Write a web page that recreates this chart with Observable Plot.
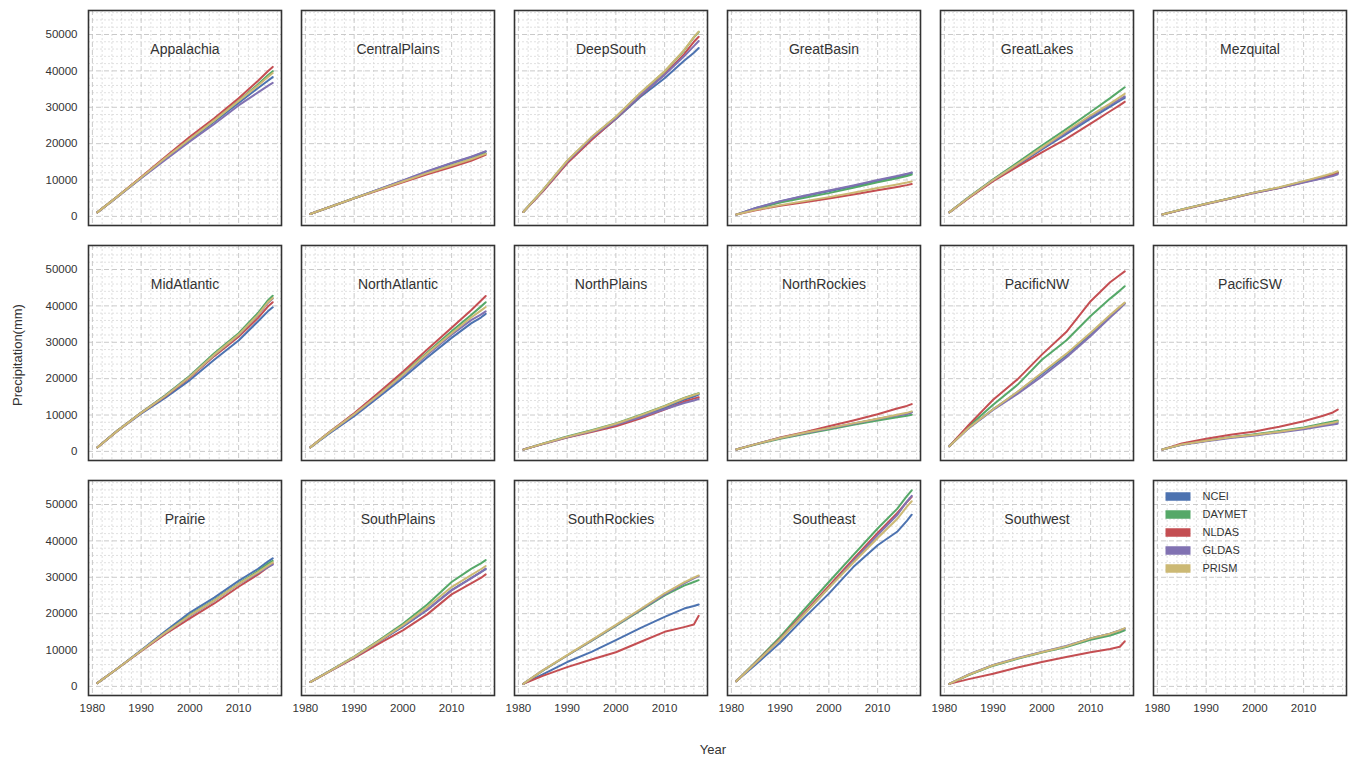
<!DOCTYPE html>
<html>
<head>
<meta charset="utf-8">
<script src="https://cdn.jsdelivr.net/npm/d3@7"></script>
<script src="https://cdn.jsdelivr.net/npm/@observablehq/plot@0.6"></script>
<style>
  html, body { margin: 0; padding: 0; background: #fff; }
  #fig { position: relative; width: 1355px; height: 760px; font-family: "Liberation Sans", Arial, sans-serif; color: #333; }
  .lab { position: absolute; font-size: 13px; color: #333; white-space: nowrap; }
</style>
</head>
<body>
<div id="fig">
  <div id="chart"></div>
  <div class="lab" style="left:713px; top:749px; transform: translate(-50%,-50%);">Year</div>
  <div class="lab" style="left:17px; top:355px; transform: translate(-50%,-50%) rotate(-90deg);">Precipitation(mm)</div>
</div>
<script>
const years = [1981, 1985, 1990, 1995, 2000, 2005, 2010, 2014, 2016, 2017];
const series = ["NCEI", "DAYMET", "NLDAS", "GLDAS", "PRISM"];
const colors = ["#4C72B0", "#55A868", "#C44E52", "#8172B2", "#CCB974"];
const regionNames = ["Appalachia", "CentralPlains", "DeepSouth", "GreatBasin", "GreatLakes", "Mezquital",
  "MidAtlantic", "NorthAtlantic", "NorthPlains", "NorthRockies", "PacificNW", "PacificSW",
  "Prairie", "SouthPlains", "SouthRockies", "Southeast", "Southwest"];
const yTicks = [0, 10000, 20000, 30000, 40000, 50000];
const xTicks = [1980, 1990, 2000, 2010];

// each: [NCEI, DAYMET, NLDAS, GLDAS, PRISM], cumulative mm at the years above
const appalachia = [
  [1100, 5300, 10600, 15900, 21000, 26000, 31200, 35300, 37300, 38300],
  [1100, 5300, 10700, 16100, 21300, 26400, 31800, 36300, 38800, 39900],
  [1100, 5300, 10800, 16400, 21900, 27000, 32500, 37300, 39900, 41100],
  [1100, 5200, 10500, 15600, 20600, 25400, 30500, 34100, 35900, 36700],
  [1100, 5300, 10700, 16100, 21300, 26400, 31700, 36000, 38300, 39400]];
const centralPlains = [
  [650, 2600, 5000, 7400, 9800, 12300, 14600, 16300, 17300, 17800],
  [650, 2600, 5000, 7300, 9600, 11900, 14000, 15700, 16800, 17300],
  [650, 2600, 4950, 7200, 9400, 11600, 13600, 15300, 16400, 16900],
  [650, 2600, 5000, 7400, 9900, 12400, 14700, 16400, 17400, 17900],
  [650, 2600, 5000, 7300, 9600, 11900, 14000, 15700, 16700, 17200]];
const deepSouth = [
  [1200, 7000, 14800, 21200, 26800, 32800, 38000, 42800, 45000, 46300],
  [1200, 7200, 15200, 21700, 27300, 33800, 39800, 45600, 49200, 50700],
  [1200, 6800, 14600, 21000, 26900, 33200, 39000, 44600, 48000, 49400],
  [1200, 7000, 15000, 21500, 27000, 33300, 38900, 44000, 46800, 48200],
  [1200, 7200, 15300, 21800, 27400, 33900, 39900, 45700, 49300, 50800]];
const greatBasin = [
  [500, 2300, 4100, 5600, 6900, 8300, 9800, 10900, 11500, 11900],
  [500, 2100, 3800, 5100, 6400, 7900, 9400, 10500, 11100, 11500],
  [500, 1700, 2900, 3900, 4900, 6000, 7200, 8100, 8600, 8900],
  [500, 2300, 4200, 5700, 7100, 8500, 10000, 11100, 11700, 12100],
  [500, 1800, 3100, 4200, 5300, 6500, 7800, 8800, 9300, 9600]];
const greatLakes = [
  [1100, 5200, 9900, 14100, 18400, 22600, 26900, 30200, 31800, 32600],
  [1100, 5300, 10200, 14800, 19500, 24000, 28700, 32500, 34500, 35500],
  [1100, 5000, 9700, 13700, 17600, 21300, 25500, 28900, 30600, 31500],
  [1100, 5200, 10000, 14300, 18700, 23000, 27400, 30700, 32200, 33000],
  [1100, 5200, 10000, 14400, 18900, 23400, 27800, 31000, 32800, 33700]];
const mezquital = [
  [500, 1900, 3500, 5000, 6600, 7900, 9600, 10900, 11600, 12100],
  [500, 1900, 3500, 5000, 6600, 7900, 9500, 10800, 11500, 12000],
  [500, 1800, 3400, 4900, 6500, 7800, 9400, 10700, 11400, 11900],
  [500, 1800, 3400, 4900, 6500, 7800, 9300, 10500, 11100, 11600],
  [500, 1900, 3500, 5000, 6600, 8000, 9700, 11100, 11900, 12400]];
const midAtlantic = [
  [1100, 5500, 10400, 14800, 19600, 25200, 30500, 35800, 38500, 39600],
  [1100, 5600, 10700, 15500, 20800, 27000, 32500, 38100, 41500, 42800],
  [1100, 5500, 10600, 15200, 20300, 26200, 31500, 36700, 39800, 41000],
  [1100, 5500, 10600, 15300, 20500, 26500, 32000, 37500, 40800, 42000],
  [1100, 5500, 10600, 15300, 20500, 26600, 32100, 37600, 41000, 42200]];
const northAtlantic = [
  [1100, 5000, 9700, 14900, 20200, 25800, 31200, 35200, 36800, 37800],
  [1100, 5300, 10300, 15700, 21300, 27200, 33000, 37500, 39800, 41000],
  [1100, 5400, 10500, 16100, 21900, 28000, 34000, 38800, 41400, 42700],
  [1100, 5200, 10100, 15400, 20900, 26600, 32100, 36100, 37600, 38500],
  [1100, 5300, 10200, 15500, 21100, 26900, 32500, 36800, 38700, 39700]];
const northPlains = [
  [500, 2100, 4000, 5600, 7400, 9600, 12000, 14200, 15100, 15600],
  [500, 2100, 4100, 5800, 7700, 10000, 12500, 14700, 15600, 16000],
  [500, 2000, 3800, 5300, 6900, 9000, 11500, 13700, 14500, 14900],
  [500, 2000, 3900, 5500, 7300, 9400, 11600, 13300, 14000, 14400],
  [500, 2100, 4000, 5700, 7600, 9900, 12400, 14600, 15500, 15900]];
const northRockies = [
  [500, 2000, 3700, 5000, 6300, 7600, 8900, 9900, 10400, 10800],
  [500, 1900, 3500, 4800, 6000, 7300, 8500, 9400, 9800, 10100],
  [500, 2000, 3800, 5300, 6900, 8500, 10200, 11800, 12500, 13000],
  [500, 2000, 3700, 5000, 6300, 7600, 8900, 9900, 10300, 10700],
  [500, 2000, 3700, 5100, 6400, 7700, 9000, 10100, 10600, 11000]];
const pacificNW = [
  [1400, 6500, 11600, 16300, 21300, 26400, 32200, 37200, 39500, 40700],
  [1400, 6900, 12800, 18300, 25200, 30500, 37200, 42000, 44200, 45400],
  [1400, 7300, 14200, 19800, 26600, 32800, 41300, 46500, 48500, 49500],
  [1400, 6400, 11400, 15800, 20600, 25800, 31700, 36800, 39300, 40600],
  [1400, 6500, 11600, 16400, 21600, 26800, 32600, 37500, 39800, 40900]];
const pacificSW = [
  [500, 1900, 2900, 3900, 4600, 5400, 6400, 7400, 7800, 8100],
  [500, 1900, 2900, 3900, 4700, 5600, 6600, 7700, 8200, 8500],
  [500, 2200, 3500, 4600, 5500, 6800, 8300, 9800, 10700, 11500],
  [500, 1800, 2800, 3700, 4400, 5200, 6100, 7000, 7400, 7600],
  [500, 1900, 2900, 3900, 4600, 5400, 6400, 7400, 7900, 8200]];
const prairie = [
  [900, 4800, 9900, 15200, 20300, 24400, 29000, 32300, 34300, 35200],
  [900, 4800, 9800, 14900, 19700, 23700, 28300, 31700, 33700, 34500],
  [900, 4800, 9700, 14400, 18700, 22800, 27400, 30800, 32800, 33700],
  [900, 4800, 9800, 14800, 19400, 23500, 28100, 31200, 32800, 33500],
  [900, 4800, 9800, 14800, 19500, 23600, 28200, 31400, 33200, 34100]];
const southPlains = [
  [1200, 4200, 8000, 12200, 16400, 21000, 26500, 29800, 31400, 32200],
  [1200, 4300, 8200, 12600, 17200, 22500, 28700, 32300, 33800, 34700],
  [1200, 4100, 7800, 11700, 15400, 19800, 25300, 28300, 29800, 30800],
  [1200, 4200, 8000, 12300, 16600, 21100, 26400, 29700, 31400, 32400],
  [1200, 4200, 8100, 12400, 16800, 21800, 27300, 30600, 32200, 33100]];
const southRockies = [
  [700, 3300, 6700, 9500, 12700, 16000, 19100, 21400, 22100, 22500],
  [700, 4300, 8500, 12500, 16600, 20800, 25000, 27700, 28700, 29200],
  [700, 2900, 5300, 7400, 9400, 12200, 15000, 16300, 17000, 19400],
  [700, 4400, 8500, 12600, 16800, 21000, 25300, 28300, 29700, 30300],
  [700, 4400, 8600, 12700, 16900, 21200, 25600, 28600, 29900, 30500]];
const southeast = [
  [1400, 6000, 12000, 18900, 25500, 32800, 38800, 42500, 45500, 47200],
  [1400, 6800, 13600, 21200, 28700, 36100, 43400, 48800, 52300, 53900],
  [1400, 6600, 13100, 20300, 27600, 35000, 42200, 47600, 50700, 52100],
  [1400, 6500, 12900, 20000, 27100, 34400, 41600, 47100, 50800, 52400],
  [1400, 6500, 12900, 19900, 27100, 34000, 40800, 46000, 49400, 50900]];
const southwest = [
  [700, 3200, 5800, 7700, 9400, 11000, 13200, 14500, 15400, 15900],
  [700, 3100, 5700, 7600, 9300, 10800, 12800, 14000, 14900, 15400],
  [700, 2000, 3500, 5200, 6700, 8100, 9400, 10300, 10900, 12400],
  [700, 3300, 5900, 7800, 9500, 11100, 13200, 14500, 15400, 15900],
  [700, 3200, 5800, 7700, 9400, 11000, 13200, 14500, 15400, 16000]];

const regionValues = [appalachia, centralPlains, deepSouth, greatBasin, greatLakes, mezquital,
  midAtlantic, northAtlantic, northPlains, northRockies, pacificNW, pacificSW,
  prairie, southPlains, southRockies, southeast, southwest];

// build tidy table
const rows = [];
regionNames.forEach((name, ri) => {
  regionValues[ri].forEach((vals, si) => {
    vals.forEach((v, yi) => rows.push({region: name, col: ri % 6, row: Math.floor(ri / 6), series: series[si], year: years[yi], value: v}));
  });
});
const cells = regionNames.map((name, ri) => ({title: name, col: ri % 6, row: Math.floor(ri / 6)}));
const legendCell = [{col: 5, row: 2}];

const majorY = d3.range(0, 56001, 10000);
const minorY = d3.range(0, 56001, 2000).filter(d => d % 10000 !== 0);
const majorX = d3.range(1980, 2019, 10);
const minorX = d3.range(1980, 2019, 2).filter(d => d % 10 !== 0);

const rectSymbol = {draw(ctx) { ctx.rect(-12.5, -4.25, 25, 8.5); }};

const legendMarks = [];
series.forEach((s, i) => {
  legendMarks.push(Plot.dot(legendCell, {fx: "col", fy: "row", frameAnchor: "top-left", dx: 24.5, dy: 16 + i * 18, symbol: rectSymbol, fill: colors[i], stroke: "none", r: 5}));
  legendMarks.push(Plot.text(legendCell, {fx: "col", fy: "row", frameAnchor: "top-left", dx: 49, dy: 16 + i * 18, text: () => s, textAnchor: "start", lineAnchor: "middle", fontSize: 11}));
});

const chart = Plot.plot({
  width: 1355,
  height: 760,
  marginLeft: 86,
  marginRight: 7,
  marginTop: 9,
  marginBottom: 65,
  style: {fontFamily: "'Liberation Sans', Arial, sans-serif", fontSize: "11.5px", color: "#333", background: "#fff"},
  fx: {domain: [0, 1, 2, 3, 4, 5], paddingInner: 0.092, paddingOuter: 0, axis: null, label: null},
  fy: {domain: [0, 1, 2], paddingInner: 0.087, paddingOuter: 0, axis: null, label: null},
  x: {domain: [1979.2, 2018.8], label: null},
  y: {domain: [-2500, 56600], label: null},
  color: {domain: series, range: colors},
  marks: [
    Plot.gridX(minorX, {stroke: "#d8d8d8", strokeOpacity: 1, strokeWidth: 0.8, strokeDasharray: "2,2"}),
    Plot.gridY(minorY, {stroke: "#d8d8d8", strokeOpacity: 1, strokeWidth: 0.8, strokeDasharray: "2,2"}),
    Plot.gridX(majorX, {stroke: "#c4c4c4", strokeOpacity: 1, strokeWidth: 0.9, strokeDasharray: "5,3"}),
    Plot.gridY(majorY, {stroke: "#c4c4c4", strokeOpacity: 1, strokeWidth: 0.9, strokeDasharray: "5,3"}),
    Plot.line(rows, {fx: "col", fy: "row", x: "year", y: "value", z: "series", stroke: "series", strokeWidth: 2}),
    Plot.text(cells, {fx: "col", fy: "row", text: "title", frameAnchor: "top", dy: 39, lineAnchor: "middle", fontSize: 14}),
    ...legendMarks,
    Plot.frame({stroke: "#333", strokeWidth: 1.6}),
    Plot.axisY(yTicks, {tickSize: 0, tickPadding: 11, tickFormat: "d", label: null, facetAnchor: "left", fontSize: 11.5}),
    Plot.axisX(xTicks, {tickSize: 0, tickPadding: 8, tickFormat: "d", label: null, facetAnchor: "bottom", fontSize: 11.5})
  ]
});
document.getElementById("chart").appendChild(chart);
</script>
</body>
</html>
